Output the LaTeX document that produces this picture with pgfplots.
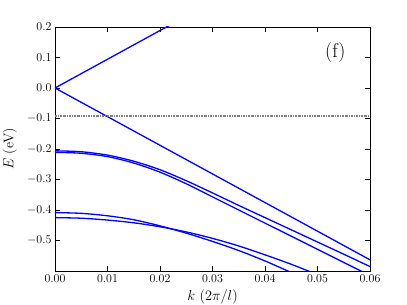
\documentclass[border=0pt]{standalone}
\usepackage{pgfplots}
\pgfplotsset{compat=1.18}
\definecolor{dd}{rgb}{0.5,0.5,0.5}
\begin{document}
\begin{tikzpicture}
\begin{axis}[name=ax,
  scale only axis, width=315pt, height=244pt,
  xmin=0, xmax=0.06, ymin=-0.6, ymax=0.2,
  xtick={0,0.01,0.02,0.03,0.04,0.05,0.06},
  ytick={-0.5,-0.4,-0.3,-0.2,-0.1,0,0.1,0.2},
  xticklabel style={/pgf/number format/.cd,fixed,fixed zerofill,precision=2},
  yticklabel style={/pgf/number format/.cd,fixed,fixed zerofill,precision=1},
  scaled x ticks=false, scaled y ticks=false,
  tick align=inside, major tick length=5pt,
  tick style={black, line width=0.6pt},
  axis line style={line width=0.8pt},
  ticklabel style={font=\fontsize{12.5}{14}\selectfont},
  xlabel={$k$ $(2\pi/l)$}, ylabel={$E$ (eV)},
  label style={font=\fontsize{14}{16}\selectfont},
  xlabel style={at={(axis description cs:0.5,-0.107)}, anchor=center},
  ylabel style={at={(axis description cs:-0.143,0.5)}, anchor=center},
]
\addplot[blue, line width=1.3pt, no marks] coordinates {(0,0) (0.03,0.2826)};
\addplot[blue, line width=1.3pt, no marks] coordinates {(0,0) (0.06,-0.5634)};
\addplot[dd, line width=1.3pt, no marks, dash pattern=on 2pt off 1pt on 0.7pt off 1pt] coordinates {(0,-0.092) (0.06,-0.092)};
% upper pair
\addplot[blue, line width=1.3pt, no marks, smooth] coordinates {(0,-0.206) (0.005,-0.209) (0.01,-0.220) (0.015,-0.240) (0.02,-0.268) (0.025,-0.304) (0.03,-0.344) (0.035,-0.385) (0.04,-0.425) (0.045,-0.465) (0.05,-0.505) (0.055,-0.545) (0.06,-0.5855)};
\addplot[blue, line width=1.3pt, no marks, smooth] coordinates {(0,-0.211) (0.005,-0.214) (0.01,-0.225) (0.015,-0.246) (0.02,-0.276) (0.025,-0.314) (0.03,-0.357) (0.035,-0.400) (0.04,-0.443) (0.045,-0.486) (0.05,-0.529) (0.055,-0.572) (0.06,-0.615)};
% lower pair
\addplot[blue, line width=1.3pt, no marks, smooth] coordinates {(0,-0.4085) (0.005,-0.411) (0.01,-0.419) (0.015,-0.432) (0.02,-0.452) (0.025,-0.476) (0.03,-0.503) (0.035,-0.533) (0.04,-0.567) (0.045,-0.605)};
\addplot[blue, line width=1.3pt, no marks, smooth] coordinates {(0,-0.425) (0.005,-0.427) (0.01,-0.433) (0.015,-0.442) (0.02,-0.455) (0.025,-0.472) (0.03,-0.493) (0.035,-0.518) (0.04,-0.547) (0.045,-0.578) (0.05,-0.612)};
\node[font=\fontsize{20}{22}\selectfont] at (axis cs:0.0534,0.115) {(f)};
\end{axis}
\pgfresetboundingbox
\path ([shift={(-55pt,-34pt)}]ax.south west) rectangle ([shift={(37pt,27pt)}]ax.north east);
\end{tikzpicture}
\end{document}
